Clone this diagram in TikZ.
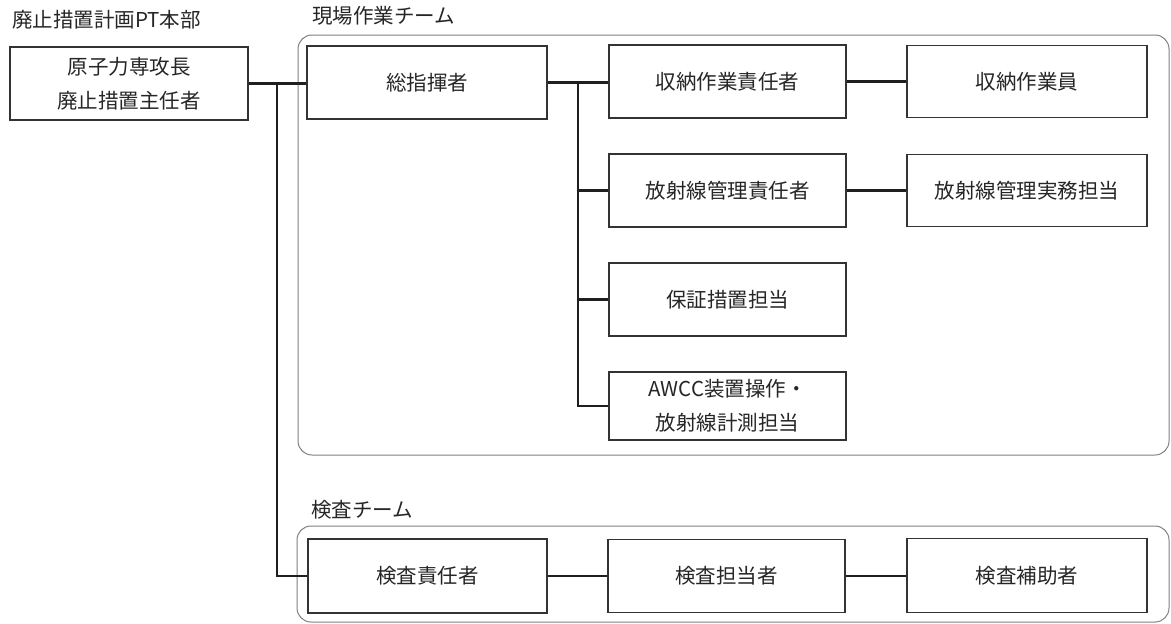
\documentclass[tikz,border=0pt]{standalone}
\usepackage{fontspec}
\newfontfamily\jp{Noto Sans CJK JP}
\begin{document}
\begin{tikzpicture}[x=1pt,y=-1pt,
  txt/.style={font=\jp\fontsize{20.5pt}{34pt}\selectfont, text=black!85},
  box/.style={txt, draw=black!80, line width=1.8pt, fill=white, inner sep=0pt, align=center},
  mid/.style={box, minimum width=237pt, minimum height=73pt},
  conn/.style={draw=black!88, line width=2.8pt},
  team/.style={draw=black!50, line width=1pt, rounded corners=14pt},
  lbl/.style={txt, anchor=west, inner sep=0pt}]
\useasboundingbox (0,0) rectangle (1171,624);
\fill[white] (0,0) rectangle (1171,624);
% team frames
\draw[team] (298,35) rectangle (1169,455);
\draw[team] (297,526) rectangle (1169,622);
% labels
\node[lbl] (hq) at (12,20) {廃止措置計画PT本部};
\node[lbl] (teamA) at (312,16) {現場作業チーム};
\node[lbl] (teamB) at (311,510) {検査チーム};
% nodes
\node[box, minimum width=238pt, minimum height=73pt] (boss) at (129,83.5) {原子力専攻長\\廃止措置主任者};
\node[box, minimum width=240pt, minimum height=73pt] (sou) at (427,82.5) {総指揮者};
\node[mid] (shuno) at (727.5,81.5) {収納作業責任者};
\node[mid] (hosha) at (727.5,190.5) {放射線管理責任者};
\node[mid] (hosho) at (727.5,299.5) {保証措置担当};
\node[mid, minimum height=68pt] (awcc) at (727.5,406) {AWCC装置操作・\\放射線計測担当};
\node[box, minimum width=240pt, minimum height=72pt] (shunoin) at (1027,81.5) {収納作業員};
\node[box, minimum width=240pt, minimum height=72pt] (jitsumu) at (1027,190.5) {放射線管理実務担当};
\node[box, minimum width=239pt, minimum height=74pt] (k1) at (427.5,576) {検査責任者};
\node[box, minimum width=237pt, minimum height=73pt] (k2) at (726.5,576) {検査担当者};
\node[box, minimum width=240pt, minimum height=74pt] (k3) at (1027,575.5) {検査補助者};
% junctions
\coordinate (j1) at (277,0);
\coordinate (j2) at (578,0);
% connectors
\draw[conn] (boss.east) -- (boss.east -| sou.west);
\draw[conn] (j1 |- boss.east) |- (k1.west);
\draw[conn] (sou.east) -- (sou.east -| shuno.west);
\draw[conn] (j2 |- sou.east) |- (awcc.west);
\draw[conn] (j2 |- hosha.west) -- (hosha.west);
\draw[conn] (j2 |- hosho.west) -- (hosho.west);
\draw[conn] (shuno.east) -- (shunoin.west);
\draw[conn] (hosha.east) -- (jitsumu.west);
\draw[conn] (k1.east) -- (k1.east -| k2.west);
\draw[conn] (k2.east) -- (k2.east -| k3.west);
\end{tikzpicture}
\end{document}
